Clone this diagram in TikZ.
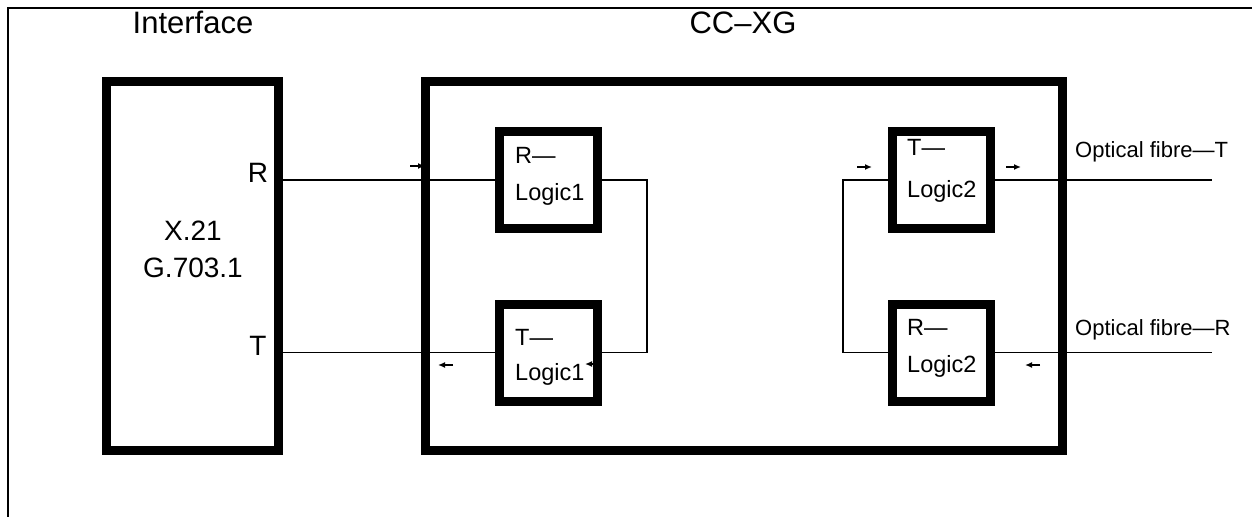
\documentclass[tikz,border=0pt]{standalone}
\usepackage{fontspec}
\setmainfont{Liberation Sans}
\usetikzlibrary{arrows.meta,positioning}

\begin{document}
\begin{tikzpicture}[
  x=1pt, y=-1pt,
  frame/.style={line width=2.6pt},
  block/.style={draw, line width=9pt, minimum width=172pt, minimum height=369pt, inner sep=0pt},
  unit/.style={draw, line width=9pt, minimum width=98pt, minimum height=97pt, inner sep=0pt},
  wire/.style={line width=1.4pt},
  dir/.style={-{Latex[length=7pt,width=6pt]}, line width=1.6pt},
  big/.style={font=\fontsize{28}{32}\selectfont, inner sep=0pt},
  head/.style={font=\fontsize{31}{36}\selectfont, inner sep=0pt},
  tag/.style={font=\fontsize{23.5}{27}\selectfont, inner sep=0pt},
  small/.style={font=\fontsize{22}{26}\selectfont, inner sep=0pt}
]
\useasboundingbox (0,0) rectangle (1252,517);
\draw[frame] (1252,8) -- (8,8) -- (8,517);

\node[head, anchor=base] (ifname) at (193,33) {Interface};
\node[head, anchor=base] (ccname) at (743,33) {CC–XG};

\node[block] (iface) at (192.5,266) {};
\node[block, minimum width=637pt] (cc) at (744,266) {};
\node[unit] (rl1) at (548.5,180) {};
\node[unit] (tl1) at (548.5,352.5) {};
\node[unit] (tl2) at (941.5,180) {};
\node[unit] (rl2) at (941.5,352.5) {};

\node[big, anchor=base] (x21) at (193,240) {X.21};
\node[big, anchor=base] (g703) at (193,277) {G.703.1};
\node[big, anchor=base] (rport) at (258,182) {R};
\node[big, anchor=base] (tport) at (258,355) {T};

\node[tag, anchor=base west] at (515,163) {R—};
\node[tag, anchor=base west] at (515,200) {Logic1};
\node[tag, anchor=base west] at (515,345) {T—};
\node[tag, anchor=base west] at (515,380) {Logic1};
\node[tag, anchor=base west] at (907,155) {T—};
\node[tag, anchor=base west] at (907,197) {Logic2};
\node[tag, anchor=base west] at (907,335) {R—};
\node[tag, anchor=base west] at (907,372) {Logic2};
\node[small, anchor=base west] (fibT) at (1075,157) {Optical fibre—T};
\node[small, anchor=base west] (fibR) at (1075,335) {Optical fibre—R};

\coordinate (fTend) at (1212,180);
\coordinate (fRend) at (1212,352.5);

\draw[wire] (iface.east |- rl1) -- (rl1.west);
\draw[wire] (rl1.east) -- ++(45,0) |- (tl1.east);
\draw[wire] (tl1.west) -- (iface.east |- tl1);
\draw[wire] (tl2.west) -- ++(-45,0) |- (rl2.west);
\draw[wire] (tl2.east) -- (fTend);
\draw[wire] (rl2.east) -- (fRend);

\draw[dir] (410,166) -- (425,166);
\draw[dir] (453,365) -- (438,365);
\draw[dir] (601,364) -- (585,364);
\draw[dir] (857,167) -- (872,167);
\draw[dir] (1006,167) -- (1021,167);
\draw[dir] (1040,365) -- (1025,365);
\end{tikzpicture}
\end{document}
